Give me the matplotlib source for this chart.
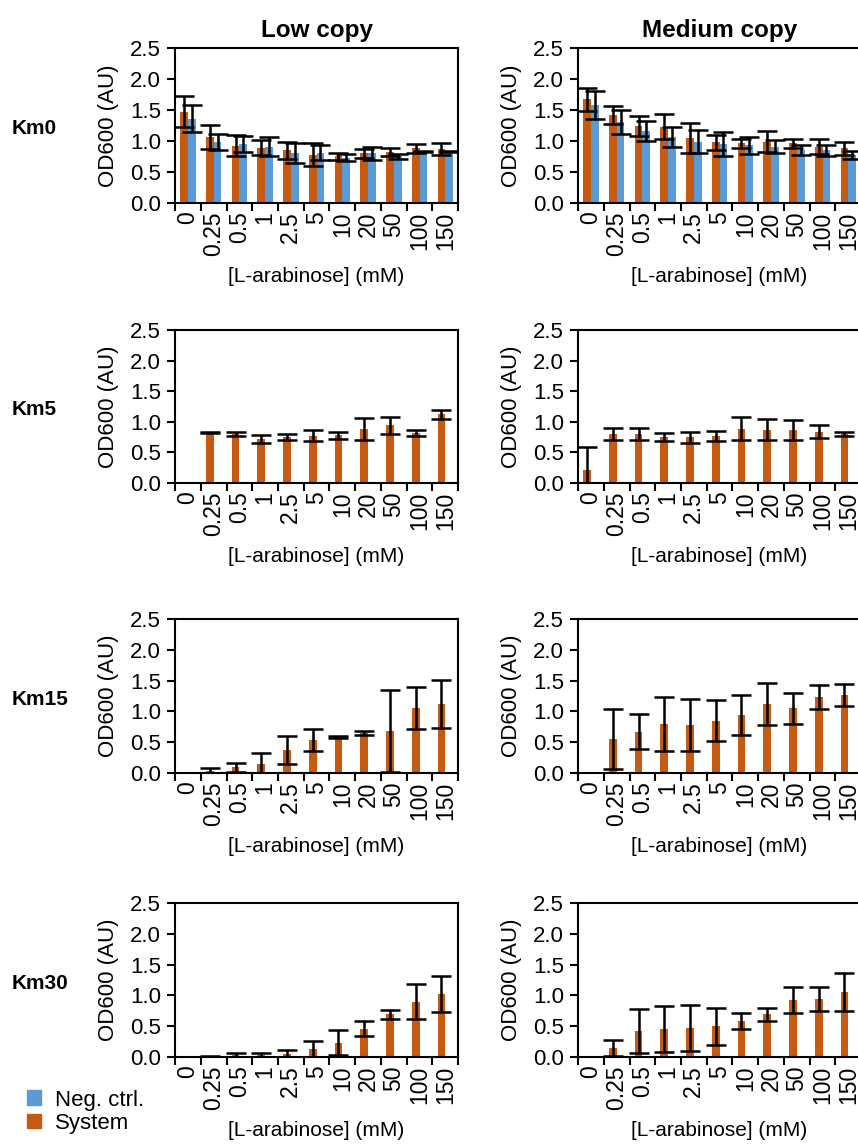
import numpy as np
import matplotlib
matplotlib.use('Agg')
import matplotlib.pyplot as plt
from matplotlib.patches import Patch

plt.rcParams['font.family'] = ['Liberation Sans', 'DejaVu Sans']

conc = ['0', '0.25', '0.5', '1', '2.5', '5', '10', '20', '50', '100', '150']
rows = ['Km0', 'Km5', 'Km15', 'Km30']
cols = ['Low copy', 'Medium copy']

# system (orange) mean / error, neg. ctrl (blue) mean / error
sys_low = {
    'Km0':  [1.47, 1.06, 0.92, 0.89, 0.85, 0.78, 0.75, 0.80, 0.82, 0.88, 0.87],
    'Km5':  [0.0, 0.83, 0.80, 0.72, 0.75, 0.77, 0.78, 0.88, 0.94, 0.82, 1.12],
    'Km15': [0.0, 0.04, 0.09, 0.15, 0.37, 0.54, 0.58, 0.645, 0.68, 1.06, 1.12],
    'Km30': [0.0, 0.01, 0.03, 0.03, 0.05, 0.125, 0.23, 0.46, 0.69, 0.90, 1.02],
}
sys_low_err = {
    'Km0':  [0.25, 0.19, 0.17, 0.12, 0.14, 0.19, 0.05, 0.07, 0.06, 0.07, 0.09],
    'Km5':  [0.0, 0.01, 0.04, 0.07, 0.05, 0.09, 0.06, 0.18, 0.14, 0.045, 0.07],
    'Km15': [0.0, 0.04, 0.07, 0.17, 0.225, 0.18, 0.02, 0.03, 0.67, 0.34, 0.385],
    'Km30': [0.0, 0.01, 0.035, 0.04, 0.055, 0.13, 0.2, 0.12, 0.07, 0.29, 0.29],
}
ctrl_low = {
    'Km0':  [1.36, 0.98, 0.95, 0.91, 0.80, 0.81, 0.73, 0.80, 0.75, 0.83, 0.83],
}
ctrl_low_err = {
    'Km0':  [0.22, 0.13, 0.13, 0.15, 0.16, 0.12, 0.06, 0.11, 0.04, 0.01, 0.01],
}
sys_med = {
    'Km0':  [1.67, 1.42, 1.24, 1.23, 1.05, 0.98, 0.96, 0.99, 0.96, 0.91, 0.88],
    'Km5':  [0.21, 0.80, 0.80, 0.75, 0.75, 0.77, 0.89, 0.87, 0.86, 0.84, 0.80],
    'Km15': [0.0, 0.55, 0.67, 0.80, 0.78, 0.85, 0.94, 1.12, 1.05, 1.23, 1.27],
    'Km30': [0.0, 0.15, 0.42, 0.45, 0.47, 0.50, 0.59, 0.69, 0.92, 0.94, 1.05],
}
sys_med_err = {
    'Km0':  [0.18, 0.14, 0.16, 0.2, 0.24, 0.12, 0.07, 0.17, 0.07, 0.12, 0.11],
    'Km5':  [0.38, 0.095, 0.1, 0.06, 0.09, 0.085, 0.18, 0.17, 0.165, 0.11, 0.035],
    'Km15': [0.0, 0.49, 0.28, 0.44, 0.42, 0.335, 0.33, 0.34, 0.25, 0.195, 0.18],
    'Km30': [0.0, 0.13, 0.36, 0.37, 0.38, 0.3, 0.13, 0.11, 0.21, 0.2, 0.31],
}
ctrl_med = {
    'Km0':  [1.58, 1.31, 1.16, 1.06, 0.99, 0.95, 0.93, 0.91, 0.86, 0.85, 0.77],
}
ctrl_med_err = {
    'Km0':  [0.22, 0.19, 0.16, 0.16, 0.18, 0.2, 0.14, 0.1, 0.08, 0.09, 0.065],
}

orange = '#C55A11'
blue = '#5B9BD5'

fig = plt.figure(figsize=(8.58, 11.45), dpi=100)

row_pos = [(0.8227, 0.1354), (0.5782, 0.1336), (0.3249, 0.1345), (0.0769, 0.1345)]
col_x = [0.204, 0.6737]
w = 0.33
x = np.arange(len(conc))
bw = 0.3

datasets = [(sys_low, sys_low_err, ctrl_low, ctrl_low_err),
            (sys_med, sys_med_err, ctrl_med, ctrl_med_err)]

for r, km in enumerate(rows):
    for c in range(2):
        s, se, n, ne = datasets[c]
        ax = fig.add_axes([col_x[c], row_pos[r][0], w, row_pos[r][1]])
        ctrl = n.get(km, [0.0] * len(conc))
        ctrl_e = ne.get(km, [0.0] * len(conc))
        ax.bar(x - bw / 2, s[km], bw, color=orange, zorder=2)
        ax.bar(x + bw / 2, ctrl, bw, color=blue, zorder=2)
        ax.errorbar(x - bw / 2, s[km], yerr=se[km], fmt='none', ecolor='black',
                    elinewidth=1.8, capsize=7, capthick=1.8, zorder=3)
        if km in n:
            ax.errorbar(x + bw / 2, ctrl, yerr=ctrl_e, fmt='none', ecolor='black',
                        elinewidth=1.8, capsize=7, capthick=1.8, zorder=3)
        ax.set_xlim(-0.5, len(conc) - 0.5)
        ax.set_ylim(0, 2.5)
        ax.set_yticks([0, 0.5, 1.0, 1.5, 2.0, 2.5])
        ax.set_yticklabels(['0.0', '0.5', '1.0', '1.5', '2.0', '2.5'])
        ax.set_xticks(x)
        ax.set_xticklabels(conc, rotation=90)
        ax.set_xticks(np.arange(-0.5, len(conc)), minor=True)
        ax.tick_params(axis='x', which='major', length=0, labelsize=16.5, pad=6)
        ax.tick_params(axis='x', which='minor', length=6, width=1.5)
        ax.tick_params(axis='y', length=6, width=1.5, labelsize=16, pad=4)
        for sp in ax.spines.values():
            sp.set_linewidth(1.5)
        ax.set_ylabel('OD600 (AU)', fontsize=16, labelpad=8)
        ax.set_xlabel('[L-arabinose] (mM)', fontsize=15, labelpad=8)
        if r == 0:
            ax.set_title(cols[c], fontsize=17.5, fontweight='bold', pad=8)
    fig.text(0.014, row_pos[r][0] + row_pos[r][1] / 2 - 0.003, km,
             fontsize=15, fontweight='bold', ha='left', va='center')

handles = [Patch(color=blue, label='Neg. ctrl.'), Patch(color=orange, label='System')]
fig.legend(handles=handles, loc='lower left', bbox_to_anchor=(0.021, 0.002),
           frameon=False, fontsize=16, handlelength=0.65, handleheight=0.65,
           handletextpad=0.6, labelspacing=0.1, borderaxespad=0)

fig.savefig('out.png', dpi=100)
